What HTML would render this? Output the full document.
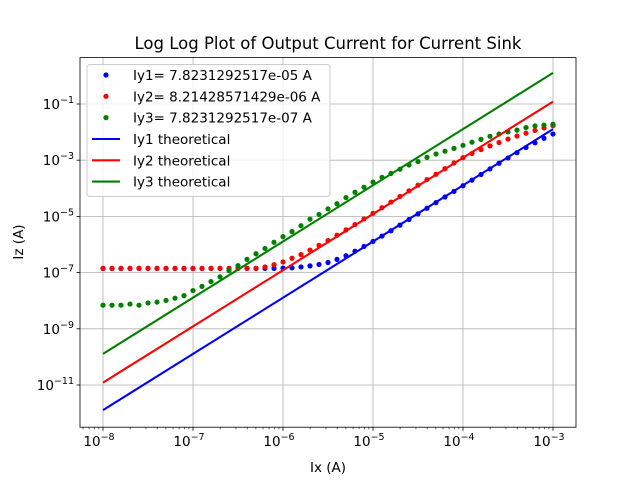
<!DOCTYPE html>
<html><head><meta charset="utf-8"><style>
body{margin:0;background:#fff;}
svg{display:block;font-family:"DejaVu Sans","Liberation Sans",sans-serif;}
</style></head><body>
<svg id="chart" width="640" height="480" viewBox="0 0 640 480">
<rect width="640" height="480" fill="#fff"/>
<text x="328" y="49" font-size="16.5" text-anchor="middle">Log Log Plot of Output Current for Current Sink</text>
<g id="grid"></g>
<g id="marks"></g>
<g id="axes"></g>
<g id="legend"></g>
<text x="328" y="472" font-size="13.5" text-anchor="middle">Ix (A)</text>
<text transform="translate(23,242) rotate(-90)" font-size="13.5" text-anchor="middle">Iz (A)</text>
</svg>
<script>
const xDecades=[-8,-7,-6,-5,-4,-3];
const yDecades=[-11,-9,-7,-5,-3,-1];
const iyValues=[7.8231292517e-05,8.21428571429e-06,7.8231292517e-07];
const seriesColors=['#0000ff','#ff0000','#008000'];
const legendPoints=['Iy1= 7.8231292517e-05 A','Iy2= 8.21428571429e-06 A','Iy3= 7.8231292517e-07 A'];
const legendLines=['Iy1 theoretical','Iy2 theoretical','Iy3 theoretical'];
const ixStartLog=-8, ixStepLog=0.1;
const iy1LogIz=[-6.85,-6.85,-6.85,-6.85,-6.85,-6.85,-6.85,-6.85,-6.85,-6.85,-6.85,-6.85,-6.85,-6.85,-6.85,-6.85,-6.85,-6.85,-6.85,-6.85,-6.84,-6.83,-6.80,-6.76,-6.71,-6.64,-6.53,-6.40,-6.24,-6.07,-5.89,-5.70,-5.51,-5.31,-5.11,-4.91,-4.71,-4.51,-4.31,-4.11,-3.91,-3.71,-3.51,-3.31,-3.11,-2.92,-2.73,-2.55,-2.38,-2.22,-2.07];
const iy2LogIz=[-6.85,-6.85,-6.85,-6.85,-6.85,-6.85,-6.85,-6.85,-6.85,-6.85,-6.85,-6.85,-6.85,-6.85,-6.85,-6.85,-6.85,-6.85,-6.80,-6.72,-6.62,-6.49,-6.36,-6.20,-6.03,-5.86,-5.67,-5.48,-5.29,-5.09,-4.89,-4.69,-4.49,-4.29,-4.09,-3.89,-3.69,-3.50,-3.30,-3.10,-2.91,-2.76,-2.62,-2.49,-2.37,-2.25,-2.14,-2.04,-1.94,-1.85,-1.77];
const iy3LogIz=[-8.16,-8.16,-8.16,-8.12,-8.16,-8.08,-8.05,-7.99,-7.91,-7.82,-7.64,-7.49,-7.32,-7.15,-6.93,-6.75,-6.53,-6.33,-6.14,-5.92,-5.72,-5.54,-5.33,-5.10,-4.93,-4.73,-4.55,-4.33,-4.14,-3.96,-3.78,-3.61,-3.47,-3.32,-3.17,-3.05,-2.90,-2.78,-2.68,-2.58,-2.47,-2.36,-2.26,-2.15,-2.07,-1.99,-1.93,-1.84,-1.78,-1.75,-1.72];

const NS='http://www.w3.org/2000/svg';
const L=80,R=576,T=57.6,B=427.2;
const xMin=-8.2556,xMax=-2.7444,yMin=-12.502,yMax=0.651;
function xs(lg){return L+(lg-xMin)/(xMax-xMin)*(R-L);}
function ys(lg){return B-(lg-yMin)/(yMax-yMin)*(B-T);}
function mk(tag,attrs,parent){const e=document.createElementNS(NS,tag);for(const k in attrs)e.setAttribute(k,attrs[k]);parent.appendChild(e);return e;}
const grid=document.getElementById('grid'),marks=document.getElementById('marks'),axes=document.getElementById('axes'),legend=document.getElementById('legend');

xDecades.forEach(d=>{
  const g=mk('line',{x1:xs(d),x2:xs(d),y1:T,y2:B,stroke:'#b0b0b0','stroke-width':0.8},grid);
  
  
  const t=mk('line',{x1:xs(d),x2:xs(d),y1:B,y2:B+3.5,stroke:'#000','stroke-width':0.8},axes);
  
  
  const lb=mk('text',{x:xs(d)-4,y:B+19,'font-size':13.5,'text-anchor':'middle'},axes);
  
  
  lb.innerHTML='10<tspan dy="-6" font-size="9.5">\u2212'+Math.abs(d)+'</tspan>';
});
for(let d=-9;d<=-3;d++){for(let m=2;m<=9;m++){const lg=d+Math.log10(m);if(lg<xMin||lg>xMax)continue;
  const t=mk('line',{x1:xs(lg),x2:xs(lg),y1:B,y2:B+2,stroke:'#000','stroke-width':0.6},axes);
  
  }}
yDecades.forEach(d=>{
  const g=mk('line',{x1:L,x2:R,y1:ys(d),y2:ys(d),stroke:'#b0b0b0','stroke-width':0.8},grid);
  
  
  const t=mk('line',{x1:L-3.5,x2:L,y1:ys(d),y2:ys(d),stroke:'#000','stroke-width':0.8},axes);
  
  
  const lb=mk('text',{x:L-6,y:ys(d)+5,'font-size':13.5,'text-anchor':'end'},axes);
  
  
  lb.innerHTML='10<tspan dy="-6" font-size="9.5">\u2212'+Math.abs(d)+'</tspan>';
});
const frame=mk('rect',{x:L,y:T,width:R-L,height:B-T,fill:'none',stroke:'#000','stroke-width':0.8},axes);



const allSeries=[iy1LogIz,iy2LogIz,iy3LogIz];
allSeries.forEach((arr,s)=>{
  arr.forEach((v,i)=>{
    const c=mk('circle',{cx:xs(ixStartLog+i*ixStepLog),cy:ys(v),r:2.6,fill:seriesColors[s]},marks);
    
    
  });
});
iyValues.forEach((iy,s)=>{
  const a=xDecades[0],b=xDecades[xDecades.length-1];
  const f=lg=>2*lg-Math.log10(iy);
  const p=mk('line',{x1:xs(a),y1:ys(f(a)),x2:xs(b),y2:ys(f(b)),stroke:seriesColors[s],'stroke-width':2.1},marks);
  
  
});

const box=mk('rect',{x:87,y:64.5,width:243,height:132,rx:3,fill:'#fff','fill-opacity':0.8,stroke:'#cccccc','stroke-width':1},legend);


legendPoints.forEach((t,i)=>{
  const y=75+i*21.3;
  const c=mk('circle',{cx:106,cy:y,r:2.6,fill:seriesColors[i]},legend);
  
  
  const tx=mk('text',{x:133,y:y+5,'font-size':13.5},legend);
  
  
  tx.textContent=t;
});
legendLines.forEach((t,i)=>{
  const y=139+i*21.3;
  const ln=mk('line',{x1:92,x2:120,y1:y,y2:y,stroke:seriesColors[i],'stroke-width':2.1},legend);
  
  
  const tx=mk('text',{x:133,y:y+5,'font-size':13.5},legend);
  
  
  tx.textContent=t;
});
</script>
</body></html>
